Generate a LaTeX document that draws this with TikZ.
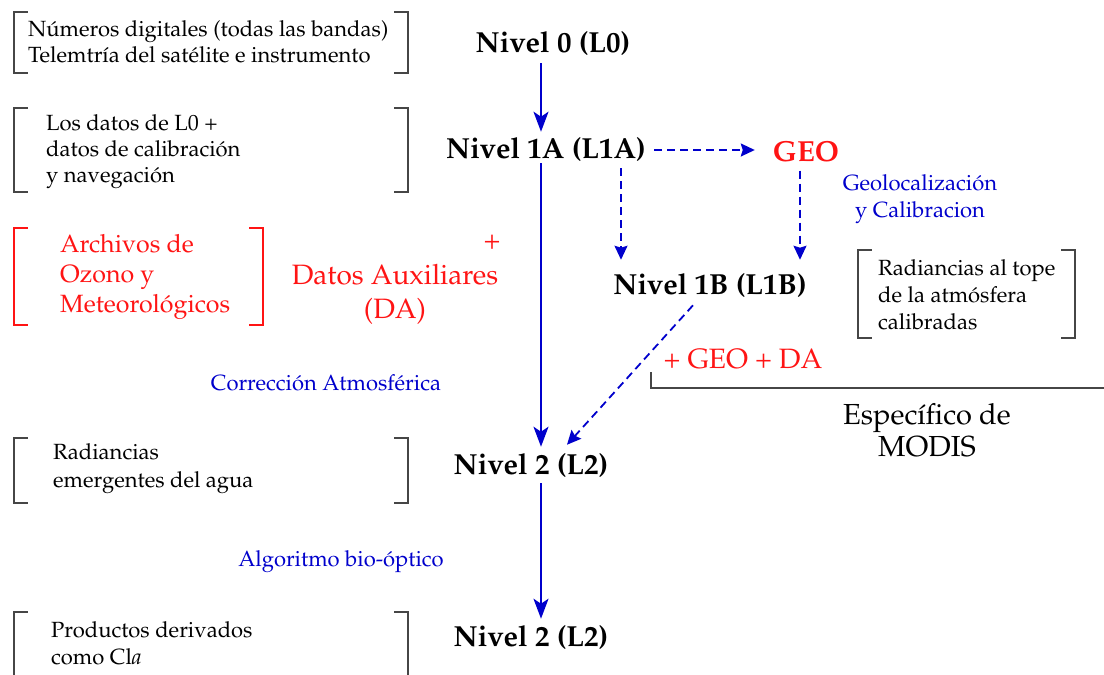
\documentclass[tikz,border=0pt]{standalone}
\usepackage[T1]{fontenc}
\usepackage{mathpazo}
\usetikzlibrary{arrows.meta,calc}
\definecolor{dblue}{RGB}{0,0,204}
\definecolor{dred}{RGB}{255,20,20}
\definecolor{brgray}{RGB}{70,70,70}
\tikzset{
 lvl/.style={font=\fontsize{29}{32}\selectfont\bfseries, inner sep=0pt},
 note/.style={font=\fontsize{22}{26}\selectfont, align=left, anchor=west, inner sep=0pt},
 rednote/.style={font=\fontsize{25}{30}\selectfont, text=dred, align=left, anchor=west, inner sep=0pt},
 redlbl/.style={font=\fontsize{28}{34}\selectfont, text=dred, align=center, inner sep=0pt},
 bluelbl/.style={font=\fontsize{22}{27}\selectfont, text=dblue, align=center, inner sep=0pt},
 blklbl/.style={font=\fontsize{29}{32}\selectfont, align=center, inner sep=0pt},
 frame/.style={draw=none, inner sep=0pt},
 brk/.style={draw=brgray, line width=1.5pt},
 solidarr/.style={draw=dblue, line width=2pt, -{Stealth[length=20pt,width=15pt,inset=5pt]}},
 dasharr/.style={draw=dblue, line width=1.8pt, dash pattern=on 8pt off 5pt, -{Stealth[length=14pt,width=13pt,inset=2pt]}},
}
\newcommand{\brackets}[2]{%
 \draw[brk,#2] ($(#1.north west)+(14,0)$) -- (#1.north west) -- (#1.south west) -- ++(14,0);
 \draw[brk,#2] ($(#1.north east)+(-14,0)$) -- (#1.north east) -- (#1.south east) -- ++(-14,0);
}
\begin{document}
\begin{tikzpicture}[x=1pt,y=-1pt]
\path[use as bounding box, clip] (0,0) rectangle (1104,675);
\fill[white] (0,0) rectangle (1104,675);

% frames
\node[frame, minimum width=394pt, minimum height=61pt] (f1) at (211,42.5) {};
\node[frame, minimum width=394pt, minimum height=84pt] (f2) at (211,150) {};
\node[frame, minimum width=249pt, minimum height=97pt] (f3) at (138.5,276.5) {};
\node[frame, minimum width=217pt, minimum height=88pt] (f4) at (966.5,294) {};
\node[frame, minimum width=394pt, minimum height=65pt] (f5) at (211,470.5) {};
\node[frame, minimum width=394pt, minimum height=100pt] (f6) at (211,662) {};
\brackets{f1}{}
\brackets{f2}{}
\brackets{f3}{draw=dred}
\brackets{f4}{}
\brackets{f5}{}
\brackets{f6}{}

% frame texts
\node[note] (t1) at (28,42) {N\'umeros digitales (todas las bandas)\\Telemtr\'ia del sat\'elite e instrumento};
\node[note] (t2) at (46,152) {Los datos de L0 +\\datos de calibraci\'on\\y navegaci\'on};
\node[rednote] (t3) at (60,277) {Archivos de\\Ozono y\\Meteorol\'ogicos};
\node[note, font=\fontsize{22}{27}\selectfont] (t4) at (878,295) {Radiancias al tope\\de la atm\'osfera\\calibradas};
\node[note, font=\fontsize{22}{28}\selectfont] (t5) at (53,469) {Radiancias\\emergentes del agua};
\node[note, font=\fontsize{22}{27}\selectfont] (t6) at (51,643) {Productos derivados\\como Cl\textit{a}};

% level nodes
\node[lvl] (n0) at (553,44) {Nivel 0 (L0)};
\node[lvl] (n1a) at (546,150) {Nivel 1A (L1A)};
\node[lvl, text=dred] (geo) at (806,152) {GEO};
\node[lvl] (n1b) at (710,286) {Nivel 1B (L1B)};
\node[lvl] (n2a) at (531,466) {Nivel 2 (L2)};
\node[lvl] (n2b) at (531,638) {Nivel 2 (L2)};

% labels
\node[redlbl] (plus) at (492,242) {+};
\node[redlbl] (da) at (395,294) {Datos Auxiliares\\(DA)};
\node[bluelbl] (gc) at (920,199) {Geolocalizaci\'on\\y Calibracion};
\node[redlbl] (gd) at (743,359) {+ GEO + DA};
\node[blklbl] (modis) at (927,430) {Espec\'ifico de\\MODIS};
\node[bluelbl] (ca) at (326,383) {Correcci\'on Atmosf\'erica};
\node[bluelbl] (bo) at (341,562) {Algoritmo bio-\'optico};

% connectors
\coordinate (spine) at (541,0);
\coordinate (c1) at (621,0);
\coordinate (c2) at (800,0);
\coordinate (m1) at (651,372);
\coordinate (m2) at (1104,388);
\draw[solidarr, shorten <=7pt, shorten >=6pt] (n0.south -| spine) -- (n1a.north -| spine);
\draw[solidarr, shorten <=1pt, shorten >=7pt] (n1a.south -| spine) -- (n2a.north -| spine);
\draw[solidarr, shorten <=5pt, shorten >=7pt] (n2a.south -| spine) -- (n2b.north -| spine);
\draw[dasharr, shorten <=8pt, shorten >=18pt] (n1a.east) -- (geo.west |- n1a.east);
\draw[dasharr, shorten <=6pt, shorten >=14pt] (n1a.south -| c1) -- (n1b.north -| c1);
\draw[dasharr, shorten <=8pt, shorten >=14pt] (geo.south -| c2) -- (n1b.north -| c2);
\draw[dasharr] ($(n1b.south)+(-17,7)$) -- ($(n2a.north)+(36,-9)$);
\draw[brk] (m1) |- (m2);
\end{tikzpicture}
\end{document}
